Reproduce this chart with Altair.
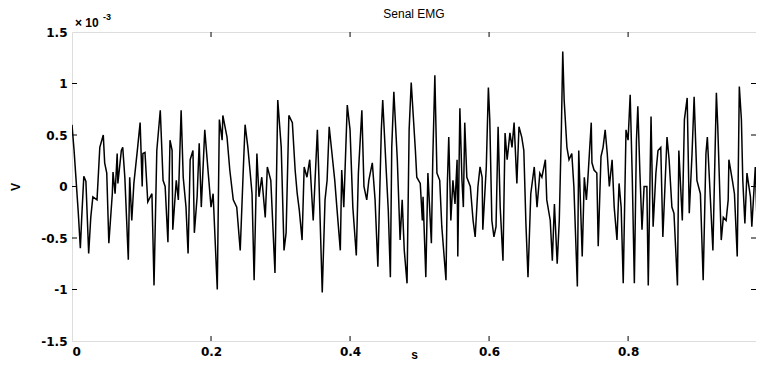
import altair as alt
import pandas as pd

# time (s)
t = [0.000, 0.003, 0.006, 0.009, 0.012, 0.014, 0.017, 0.020, 0.024, 0.027,
     0.030, 0.036, 0.040, 0.045, 0.047, 0.050, 0.053, 0.058, 0.059, 0.062,
     0.065, 0.066, 0.071, 0.073, 0.076, 0.081, 0.083, 0.086, 0.089, 0.094,
     0.098, 0.101, 0.102, 0.105, 0.109, 0.115, 0.118, 0.122, 0.127, 0.131,
     0.134, 0.138, 0.141, 0.144, 0.145, 0.150, 0.153, 0.157, 0.160, 0.164,
     0.167, 0.170, 0.174, 0.176, 0.180, 0.183, 0.186, 0.191, 0.196, 0.200,
     0.203, 0.209, 0.212, 0.216, 0.217, 0.223, 0.227, 0.232, 0.237, 0.242,
     0.246, 0.249, 0.253, 0.256, 0.259, 0.262, 0.266, 0.269, 0.273, 0.278,
     0.281, 0.286, 0.292, 0.296, 0.301, 0.305, 0.308, 0.312, 0.317, 0.321,
     0.324, 0.327, 0.331, 0.334, 0.338, 0.342, 0.347, 0.353, 0.355, 0.360,
     0.364, 0.367, 0.370, 0.374, 0.378, 0.381, 0.386, 0.388, 0.391, 0.396,
     0.400, 0.404, 0.409, 0.412, 0.417, 0.420, 0.424, 0.427, 0.432, 0.436,
     0.440, 0.445, 0.447, 0.452, 0.455, 0.458, 0.460, 0.463, 0.468, 0.472,
     0.475, 0.478, 0.482, 0.485, 0.488, 0.491, 0.494, 0.496, 0.501, 0.504,
     0.505, 0.509, 0.512, 0.517, 0.519, 0.522, 0.525, 0.529, 0.532, 0.538,
     0.540, 0.542, 0.545, 0.548, 0.551, 0.554, 0.555, 0.558, 0.561, 0.563,
     0.565, 0.568, 0.573, 0.577, 0.580, 0.584, 0.587, 0.590, 0.591, 0.596,
     0.599, 0.601, 0.604, 0.607, 0.610, 0.613, 0.616, 0.620, 0.623, 0.626,
     0.630, 0.633, 0.636, 0.640, 0.643, 0.647, 0.650, 0.653, 0.656, 0.660,
     0.665, 0.669, 0.673, 0.676, 0.681, 0.683, 0.688, 0.691, 0.694, 0.698,
     0.701, 0.704, 0.706, 0.708, 0.712, 0.715, 0.719, 0.722, 0.727, 0.729,
     0.734, 0.737, 0.740, 0.742, 0.747, 0.748, 0.751, 0.755, 0.757, 0.761,
     0.764, 0.767, 0.770, 0.773, 0.777, 0.780, 0.784, 0.787, 0.790, 0.793,
     0.797, 0.800, 0.803, 0.806, 0.809, 0.812, 0.814, 0.817, 0.820, 0.823,
     0.827, 0.829, 0.833, 0.836, 0.840, 0.843, 0.847, 0.850, 0.856, 0.859,
     0.863, 0.866, 0.871, 0.873, 0.878, 0.881, 0.885, 0.888, 0.892, 0.895,
     0.899, 0.904, 0.908, 0.912, 0.914, 0.918, 0.922, 0.927, 0.929, 0.934,
     0.937, 0.941, 0.944, 0.945, 0.950, 0.953, 0.957, 0.960, 0.963, 0.965,
     0.968, 0.971, 0.976, 0.978, 0.983, 0.986]

# signal (x 10^-3 V)
v = [0.60, 0.35, 0.05, -0.25, -0.60, -0.30, 0.10, 0.05, -0.65, -0.30,
     -0.10, -0.13, 0.38, 0.50, 0.23, 0.13, -0.55, -0.07, 0.14, -0.07,
     0.32, 0.03, 0.35, 0.38, 0.09, -0.71, 0.09, -0.33, 0.03, 0.35,
     0.62, 0.00, 0.32, 0.33, -0.15, -0.07, -0.96, 0.35, 0.74, 0.06,
     0.00, -0.54, 0.45, 0.35, -0.42, 0.06, -0.13, 0.74, 0.09, -0.20,
     -0.65, 0.26, 0.35, -0.45, -0.10, 0.42, -0.20, 0.55, 0.13, -0.20,
     -0.07, -1.00, 0.65, 0.45, 0.69, 0.48, 0.16, -0.13, -0.20, -0.62,
     0.09, 0.60, 0.38, 0.16, -0.07, -0.91, 0.32, -0.10, 0.09, -0.30,
     0.19, 0.06, -0.84, 0.84, 0.38, -0.62, -0.45, 0.69, 0.62, 0.16,
     -0.07, -0.23, -0.52, 0.19, 0.09, 0.26, -0.33, 0.55, 0.13, -1.03,
     -0.13, 0.06, 0.58, 0.32, 0.06, -0.20, -0.62, 0.16, -0.20, 0.79,
     0.55, -0.20, -0.67, 0.13, 0.74, 0.00, -0.13, 0.06, 0.23, -0.13,
     -0.78, 0.55, 0.84, 0.16, -0.23, -0.88, 0.38, 0.92, 0.26, -0.52,
     -0.13, -0.62, -0.94, 0.55, 1.01, 0.68, 0.35, 0.09, 0.03, -0.33,
     -0.10, -0.88, 0.13, -0.55, 0.26, 1.08, 0.13, 0.06, -0.39, -0.91,
     0.03, 0.48, -0.33, 0.06, -0.17, 0.26, -0.68, 0.76, 0.06, -0.20,
     0.62, 0.09, 0.00, -0.33, -0.49, 0.00, 0.19, 0.09, -0.42, 0.19,
     0.96, 0.65, -0.33, -0.49, -0.39, 0.58, -0.20, -0.72, 0.52, 0.26,
     0.52, 0.38, 0.62, 0.03, 0.58, 0.48, 0.35, -0.36, -0.88, -0.07,
     0.19, -0.20, 0.13, 0.09, 0.26, -0.13, -0.33, -0.72, -0.17, -0.75,
     -0.33, 0.55, 1.31, 0.84, 0.38, 0.26, 0.32, 0.00, -0.97, 0.35,
     -0.68, 0.09, -0.13, 0.06, 0.62, 0.23, 0.16, 0.13, -0.58, 0.29,
     0.38, 0.55, 0.32, 0.00, 0.26, -0.20, -0.52, 0.03, -0.20, -0.94,
     0.55, 0.45, 0.89, 0.09, -0.94, 0.45, 0.78, 0.13, -0.42, 0.00,
     0.00, -0.96, 0.68, -0.39, 0.13, 0.35, 0.38, -0.49, 0.48, 0.26,
     -0.20, -0.26, -0.96, 0.35, -0.33, 0.65, 0.86, -0.26, 0.32, 0.87,
     0.06, -0.07, -0.91, 0.32, 0.48, -0.07, -0.62, 0.91, 0.58, -0.52,
     -0.30, -0.33, -0.13, 0.26, 0.06, -0.07, -0.68, 0.97, 0.65, 0.06,
     -0.36, 0.13, -0.10, -0.39, 0.19, -0.45]

x_ticks = [0, 0.2, 0.4, 0.6, 0.8]
y_ticks = [-1.5, -1, -0.5, 0, 0.5, 1, 1.5]
x_inner_ticks = [0.2, 0.4, 0.6, 0.8]
y_inner_ticks = [-1, -0.5, 0, 0.5, 1]

title_text = "Senal EMG"
x_title = "s"
y_title = "V"
exp_base = "× 10"
exp_power = "-3"

W, H = 684, 309
FONT = "Liberation Sans"
LFONT = "DejaVu Sans"

df = pd.DataFrame({"t": t, "v": v})
x_scale = alt.Scale(domain=[0, 0.984], nice=False, zero=False)
y_scale = alt.Scale(domain=[-1.5, 1.5], nice=False, zero=False)

x_axis = alt.Axis(values=x_ticks, title=x_title, labelExpr="datum.value + ''",
                  ticks=False, domain=False, grid=False, labelPadding=5,
                  labelFont=LFONT, labelFontSize=12, labelFontWeight="bold",
                  labelColor="black",
                  titleY=17, titleBaseline="alphabetic", titleFont=FONT,
                  titleFontWeight="bold", titleFontSize=12, titleColor="black")
y_axis = alt.Axis(values=y_ticks, title=y_title, labelExpr="datum.value + ''",
                  ticks=False, domain=False, grid=False, labelPadding=5,
                  labelFont=LFONT, labelFontSize=12, labelFontWeight="bold",
                  labelColor="black",
                  titleX=-57, titleY=H / 2, titleAngle=-90, titleBaseline="middle",
                  titleAlign="center", titleFont=FONT, titleFontWeight="bold",
                  titleFontSize=12, titleColor="black")

line = alt.Chart(df).mark_line(color="black", strokeWidth=1.5, clip=True).encode(
    x=alt.X("t:Q", scale=x_scale, axis=x_axis),
    y=alt.Y("v:Q", scale=y_scale, axis=y_axis),
)

xt = pd.DataFrame({"t": x_inner_ticks})
yt = pd.DataFrame({"v": y_inner_ticks})

tick_bottom = alt.Chart(xt).mark_rule(color="black", strokeWidth=1).encode(
    x=alt.X("t:Q", scale=x_scale, axis=x_axis), y=alt.value(H - 5), y2=alt.value(H))
tick_top = alt.Chart(xt).mark_rule(color="black", strokeWidth=1).encode(
    x=alt.X("t:Q", scale=x_scale, axis=x_axis), y=alt.value(0), y2=alt.value(5))
tick_left = alt.Chart(yt).mark_rule(color="black", strokeWidth=1).encode(
    y=alt.Y("v:Q", scale=y_scale, axis=y_axis), x=alt.value(0), x2=alt.value(5))
tick_right = alt.Chart(yt).mark_rule(color="black", strokeWidth=1).encode(
    y=alt.Y("v:Q", scale=y_scale, axis=y_axis), x=alt.value(W - 5), x2=alt.value(W))

one = pd.DataFrame({"k": [0]})
title_mark = alt.Chart(one).mark_text(text=title_text, align="center", baseline="alphabetic",
                                      fontSize=12, font=FONT, color="black").encode(
    x=alt.value(W / 2), y=alt.value(-14))
exp1 = alt.Chart(one).mark_text(text=exp_base, align="left", baseline="alphabetic",
                                fontSize=12, font=FONT, fontWeight="bold", color="black").encode(
    x=alt.value(3), y=alt.value(-5))
exp2 = alt.Chart(one).mark_text(text=exp_power, align="left", baseline="alphabetic",
                                fontSize=9, font=FONT, fontWeight="bold", color="black").encode(
    x=alt.value(31), y=alt.value(-12))

chart = alt.layer(line, tick_bottom, tick_top, tick_left, tick_right,
                  title_mark, exp1, exp2).properties(
    width=W, height=H,
    autosize=alt.AutoSizeParams(type="none"),
    padding={"left": 64, "top": 24, "right": 0, "bottom": 20},
).configure_view(stroke="black", strokeWidth=1).configure(background="white")

chart.save("out.html", embed_options={"renderer": "svg", "actions": False})
